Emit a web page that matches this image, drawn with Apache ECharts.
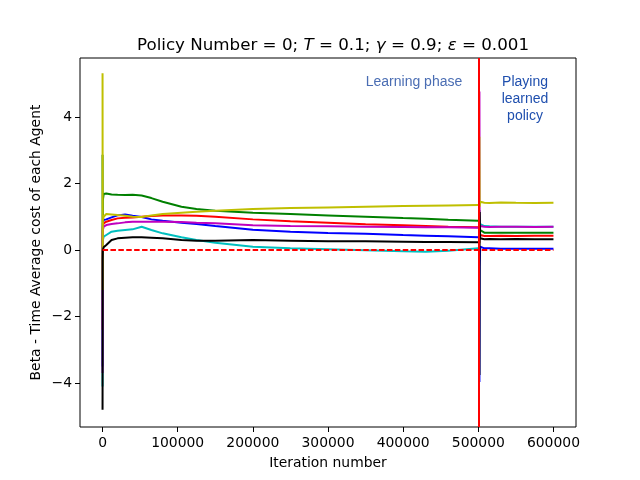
<!DOCTYPE html>
<html lang="en">
<head>
    <meta charset="UTF-8">
    <title>Policy Number = 0</title>
    <script src="https://cdn.jsdelivr.net/npm/echarts@6/dist/echarts.min.js"></script>
    <style>
        html, body {margin: 0; padding: 0; background: #fff;}
        #main {width: 640px; height: 480px;}
    </style>
</head>
<body>
<div id="main"></div>
<script type="text/javascript">

    // iterations, learning phase (0 .. 500000)
    var iterLearn = [0, 200, 400, 1500, 5000, 12000, 20000, 30000, 40000, 52000, 65000, 80000,
        105000, 125000, 150000, 200000, 250000, 300000, 350000, 400000, 430000, 460000, 500000];
    // iterations, playing the learned policy (after 500000)
    var iterPlay = [501500, 501800, 502500, 504000, 508000, 515000, 530000, 550000, 575000, 600000];

    var blueLearn = [-3.5, 0.3, 0.8, 0.9, 0.92, 0.98, 1.04, 1.07, 1.03, 0.99, 0.92, 0.88,
        0.82, 0.78, 0.72, 0.61, 0.55, 0.51, 0.49, 0.45, 0.43, 0.41, 0.38];
    var greenLearn = [2.86, -1.5, 1.5, 1.68, 1.7, 1.67, 1.66, 1.65, 1.66, 1.64, 1.56, 1.45,
        1.3, 1.23, 1.18, 1.12, 1.08, 1.04, 1.0, 0.96, 0.94, 0.91, 0.88];
    var redLearn = [-2.4, 0.3, 0.7, 0.8, 0.85, 0.9, 0.95, 0.97, 0.98, 1.0, 1.02, 1.04,
        1.04, 1.03, 1.0, 0.92, 0.86, 0.82, 0.77, 0.74, 0.72, 0.7, 0.68];
    var cyanLearn = [-4.1, -0.5, 0.3, 0.4, 0.45, 0.55, 0.58, 0.6, 0.62, 0.7, 0.6, 0.5,
        0.38, 0.3, 0.22, 0.1, 0.05, 0.02, -0.01, -0.04, -0.05, -0.02, 0.05];
    var magentaLearn = [-3.7, 0.2, 0.6, 0.7, 0.75, 0.78, 0.8, 0.83, 0.85, 0.85, 0.85, 0.85,
        0.84, 0.82, 0.8, 0.74, 0.72, 0.71, 0.7, 0.69, 0.68, 0.68, 0.67];
    var yellowLearn = [5.31, -1.2, 0.9, 1.0, 1.08, 1.07, 1.05, 1.03, 1.0, 0.99, 1.04, 1.08,
        1.12, 1.15, 1.18, 1.23, 1.26, 1.28, 1.3, 1.32, 1.33, 1.34, 1.35];
    var blackLearn = [-4.8, -0.3, 0.0, 0.08, 0.15, 0.3, 0.35, 0.37, 0.38, 0.38, 0.37, 0.35,
        0.3, 0.28, 0.28, 0.3, 0.28, 0.26, 0.26, 0.25, 0.24, 0.24, 0.23];

    var bluePlay = [-3.97, -0.5, 0.1, 0.06, 0.05, 0.05, 0.04, 0.04, 0.04, 0.04];
    var greenPlay = [1.2, 0.3, 0.6, 0.55, 0.52, 0.52, 0.52, 0.52, 0.52, 0.52];
    var redPlay = [0.2, 0.6, 0.45, 0.43, 0.42, 0.42, 0.43, 0.42, 0.43, 0.43];
    var cyanPlay = [0.3, 0.9, 0.78, 0.74, 0.72, 0.71, 0.7, 0.7, 0.7, 0.7];
    var magentaPlay = [4.76, 0.4, 0.72, 0.7, 0.7, 0.69, 0.7, 0.7, 0.69, 0.7];
    var yellowPlay = [3.4, 1.3, 1.45, 1.43, 1.42, 1.41, 1.43, 1.42, 1.41, 1.42];
    var blackPlay = [-3.76, 1.14, 0.35, 0.33, 0.32, 0.33, 0.32, 0.33, 0.32, 0.32];

    // zero reference and the phase switch
    var zeroLine = [[0, 0], [600000, 0]];
    var switchIter = 500000;

    var xTicks = [0, 100000, 200000, 300000, 400000, 500000, 600000];
    var yTicks = [-4, -2, 0, 2, 4];

    function pairs(xs, ys) {
        return xs.map(function (x, i) {
            return [x, ys[i]];
        });
    }

    function line(data, color) {
        return {
            type: 'line',
            data: data,
            showSymbol: false,
            symbol: 'none',
            silent: true,
            lineStyle: {color: color, width: 2},
            itemStyle: {color: color}
        };
    }

    var font = 'DejaVu Sans';
    var myChart = echarts.init(document.getElementById('main'), null, {renderer: 'canvas'});

    var option = {
        animation: false,
        backgroundColor: '#fff',
        title: {
            text: '{n|Policy Number = 0; }{i|T}{n| = 0.1; }{i|γ}{n| = 0.9; }{i|ε}{n| = 0.001}',
            left: 328,
            top: 32,
            textAlign: 'center',
            textStyle: {
                fontWeight: 'normal',
                rich: {
                    n: {fontFamily: font, fontSize: 16.7, fontWeight: 'normal', color: '#000'},
                    i: {fontFamily: font, fontSize: 16.7, fontWeight: 'normal', fontStyle: 'italic', color: '#000'}
                }
            }
        },
        grid: {
            left: 80, right: 64, top: 58, bottom: 53,
            show: true,
            borderColor: '#000',
            borderWidth: 1,
            backgroundColor: 'transparent'
        },
        xAxis: {
            type: 'value',
            min: -30000,
            max: 630000,
            name: 'Iteration number',
            nameLocation: 'middle',
            nameGap: 29,
            nameTextStyle: {fontFamily: font, fontSize: 13.9, color: '#000'},
            axisLine: {show: false, onZero: false},
            splitLine: {show: false},
            axisTick: {show: true, inside: false, length: 5, lineStyle: {color: '#000'}, customValues: xTicks},
            axisLabel: {
                fontFamily: font, fontSize: 13.9, color: '#000', margin: 9,
                customValues: xTicks,
                formatter: function (v) { return String(v); }
            }
        },
        yAxis: {
            type: 'value',
            min: -5.32,
            max: 5.77,
            name: 'Beta - Time Average cost of each Agent',
            nameLocation: 'middle',
            nameGap: 37,
            nameMoveOverlap: false,
            nameTextStyle: {fontFamily: font, fontSize: 13.9, color: '#000'},
            axisLine: {show: false, onZero: false},
            splitLine: {show: false},
            axisTick: {show: true, inside: false, length: 5, lineStyle: {color: '#000'}, customValues: yTicks},
            axisLabel: {
                fontFamily: font, fontSize: 13.9, color: '#000', margin: 8,
                customValues: yTicks,
                formatter: function (v) { return v < 0 ? '\u2212' + Math.abs(v) : String(v); }
            }
        },
        graphic: [
            {
                type: 'text', x: 414, y: 82, silent: true,
                style: {
                    text: 'Learning phase', fill: '#4a6db3',
                    font: '14px "Liberation Sans"', align: 'center', verticalAlign: 'middle'
                }
            },
            {
                type: 'text', x: 525, y: 99, silent: true,
                style: {
                    text: 'Playing\nlearned\npolicy', fill: '#1f4fae', lineHeight: 17,
                    font: '14px "Liberation Sans"', align: 'center', verticalAlign: 'middle'
                }
            }
        ],
        series: [
            line(pairs(iterLearn, blueLearn), '#0000ff'),
            line(pairs(iterLearn, greenLearn), '#008000'),
            line(pairs(iterLearn, redLearn), '#ff0000'),
            line(pairs(iterLearn, cyanLearn), '#00bfbf'),
            line(pairs(iterLearn, magentaLearn), '#bf00bf'),
            line(pairs(iterLearn, yellowLearn), '#bfbf00'),
            line(pairs(iterLearn, blackLearn), '#000000'),
            line(pairs(iterPlay, bluePlay), '#0000ff'),
            line(pairs(iterPlay, greenPlay), '#008000'),
            line(pairs(iterPlay, redPlay), '#ff0000'),
            line(pairs(iterPlay, cyanPlay), '#00bfbf'),
            line(pairs(iterPlay, magentaPlay), '#bf00bf'),
            line(pairs(iterPlay, yellowPlay), '#bfbf00'),
            line(pairs(iterPlay, blackPlay), '#000000'),
            {
                type: 'line',
                data: zeroLine,
                showSymbol: false,
                symbol: 'none',
                silent: true,
                lineStyle: {color: '#ff0000', width: 2, type: [5.5, 2.4]},
                markLine: {
                    silent: true,
                    symbol: 'none',
                    label: {show: false},
                    lineStyle: {color: '#ff0000', width: 2, type: 'solid'},
                    data: [{xAxis: switchIter}]
                }
            }
        ]
    };
    myChart.setOption(option);

</script>
</body>
</html>
